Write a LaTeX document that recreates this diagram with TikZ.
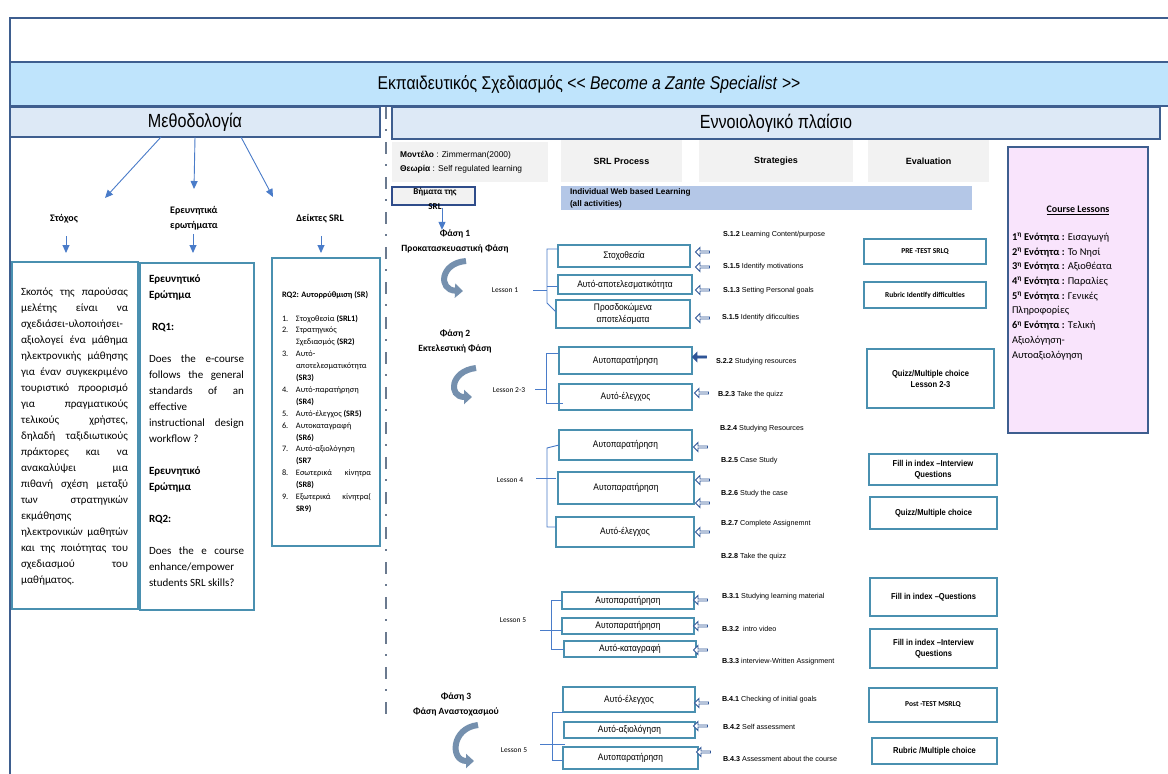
\documentclass[tikz,border=0pt]{standalone}
\usepackage{fontspec}
\setmainfont{Liberation Sans}
\newfontfamily\calib{Carlito}
\newfontfamily\narrowsans{Liberation Sans}[FakeStretch=0.88]
\newfontfamily\headsans{Liberation Sans}[FakeStretch=0.85]
\usetikzlibrary{arrows.meta,shapes.arrows}
\definecolor{frameblue}{HTML}{3E5E8F}
\definecolor{titlefill}{HTML}{BFE4FC}
\definecolor{headfill}{HTML}{DDE9F6}
\definecolor{boxteal}{HTML}{4A90B0}
\definecolor{connblue}{HTML}{4A7CC9}
\definecolor{greyfill}{HTML}{F2F2F2}
\definecolor{bandblue}{HTML}{B4C7E7}
\definecolor{pinkfill}{HTML}{F9E4FC}
\definecolor{icondark}{HTML}{2F5597}
\definecolor{curvecol}{HTML}{7590AE}
\definecolor{dashgrey}{HTML}{6B7A8F}
\definecolor{stepblue}{HTML}{2F4C8A}
\newcommand\jl[2]{\makebox[#1][s]{#2}}
\tikzset{
  every node/.style={inner sep=0pt, outer sep=0pt},
  conn/.style={draw=connblue, line width=0.9pt},
  arr/.style={conn, -{Triangle[length=8pt,width=7pt]}},
  band/.style={fill=headfill, draw=frameblue, line width=1.2pt},
  bandtext/.style={font=\headsans\fontsize{19}{22}\selectfont},
  srlbox/.style={draw=boxteal, line width=1.3pt, fill=white, align=center, font=\narrowsans\fontsize{9.5}{12}\selectfont},
  evalbox/.style={draw=boxteal, line width=1.3pt, fill=white, align=center, font=\narrowsans\bfseries\fontsize{8.6}{11}\selectfont},
  evalcal/.style={evalbox, font=\calib\bfseries\fontsize{7.5}{9}\selectfont},
  strat/.style={anchor=west, font=\fontsize{7.2}{8}\selectfont},
  icon/.style={single arrow, draw=icondark, fill=white, shape border rotate=180, minimum height=14pt, minimum width=9pt, single arrow head extend=1.5pt, line width=0.9pt},
  lesson/.style={font=\calib\fontsize{7.5}{9}\selectfont},
  phase/.style={font=\calib\bfseries\fontsize{9.5}{15}\selectfont, align=center},
  head/.style={fill=greyfill},
  headtext/.style={font=\bfseries\fontsize{9}{11}\selectfont},
  curve/.style={draw=curvecol, line width=6pt, -{Triangle[length=8pt,width=14pt]}},
  tealbox/.style={draw=boxteal, line width=1.8pt, fill=white},
  lab/.style={font=\calib\bfseries\fontsize{10}{15}\selectfont, align=left},
}
\begin{document}
\begin{tikzpicture}[x=1pt,y=-1pt]
\useasboundingbox (0,0) rectangle (1168,774);
\clip (0,0) rectangle (1168,774);
\fill[white] (0,0) rectangle (1168,774);
% outer frame
\draw[frameblue, line width=1.5pt] (10,18) rectangle (1190,800);
% title band
\draw[fill=titlefill, draw=frameblue, line width=1.3pt] (10,62) rectangle (1190,106);
\node[font=\headsans\fontsize{18.5}{22}\selectfont] (title) at (589,84) {Εκπαιδευτικός Σχεδιασμός << \textit{Become a Zante Specialist} >>};
% section bands
\node[band, bandtext, minimum width=370pt, minimum height=30pt] (meth) at (195,122) {Μεθοδολογία};
\node[band, bandtext, minimum width=768pt, minimum height=32pt] (concept) at (776,123) {Εννοιολογικό πλαίσιο};
% dash-dot separator
\draw[dashgrey, line width=2pt, dash pattern=on 12pt off 10pt on 2pt off 11pt] (386,107) -- (386,717);

% ---------- left part ----------
\node[lab] (stoch) at (64,219) {Στόχος};
\node[lab] (erev) at (194,218) {Ερευνητικά\\ερωτήματα};
\node[lab] (deik) at (320,219) {Δείκτες SRL};
\coordinate (a1e) at (105,198);
\coordinate (a2e) at (194,189);
\coordinate (a3e) at (273,197);
\draw[arr] ([xshift=-34pt]meth.south) -- (a1e);
\draw[arr] (meth.south) -- (a2e);
\draw[arr] ([xshift=46pt]meth.south) -- (a3e);

\node[tealbox, minimum width=126pt, minimum height=347pt] (box1) at (75,435.5) {};
\node[tealbox, minimum width=114pt, minimum height=347pt] (box2) at (197,436.5) {};
\node[tealbox, minimum width=108pt, minimum height=288pt] (box3) at (326,402) {};
\draw[arr] ([yshift=-13pt]stoch.south -| 66,0) -- ([yshift=9pt]box1.north -| 66,0);
\draw[arr] ([yshift=-4pt]erev.south -| 193,0) -- ([yshift=10pt]box2.north -| 193,0);
\draw[arr] ([yshift=-13pt]deik.south -| 321,0) -- ([yshift=5pt]box3.north -| 321,0);

\node[anchor=north west, align=left, font=\calib\fontsize{11}{16}\selectfont] (box1txt) at (21,288) {%
\jl{107pt}{Σκοπός της παρούσας}\\
\jl{107pt}{μελέτης είναι να}\\
σχεδιάσει-υλοποιήσει-\\
\jl{107pt}{αξιολογεί ένα μάθημα}\\
\jl{107pt}{ηλεκτρονικής μάθησης}\\
\jl{107pt}{για έναν συγκεκριμένο}\\
\jl{107pt}{τουριστικό προορισμό}\\
\jl{107pt}{για πραγματικούς}\\
\jl{107pt}{τελικούς χρήστες,}\\
\jl{107pt}{δηλαδή ταξιδιωτικούς}\\
\jl{107pt}{πράκτορες και να}\\
\jl{107pt}{ανακαλύψει μια}\\
\jl{107pt}{πιθανή σχέση μεταξύ}\\
\jl{107pt}{των στρατηγικών}\\
εκμάθησης\\
\jl{107pt}{ηλεκτρονικών μαθητών}\\
\jl{107pt}{και της ποιότητας του}\\
\jl{107pt}{σχεδιασμού του}\\
μαθήματος.};

\node[anchor=north west, align=left, font=\calib\fontsize{11}{16}\selectfont] (box2txt) at (149,275) {%
\textbf{Ερευνητικό}\\
\textbf{Ερώτημα}\\[16pt]
\hspace*{3pt}\textbf{RQ1:}\\[16pt]
\jl{95pt}{Does the e-course}\\
\jl{95pt}{follows the general}\\
\jl{95pt}{standards of an}\\
effective\\
\jl{95pt}{instructional design}\\
workflow ?\\[16pt]
\textbf{Ερευνητικό}\\
\textbf{Ερώτημα}\\[16pt]
\textbf{RQ2:}\\[16pt]
\jl{95pt}{Does the e course}\\
enhance/empower\\
students SRL skills?};

\node[anchor=north west, align=left, font=\calib\fontsize{8.3}{11.9}\selectfont] (box3txt) at (282,291) {%
\textbf{RQ2: Αυτορρύθμιση (SR)}\\[12pt]
\makebox[14pt][l]{1.}Στοχοθεσία \textbf{(SRL1)}\\
\makebox[14pt][l]{2.}Στρατηγικός\\
\hspace*{14pt}Σχεδιασμός \textbf{(SR2)}\\
\makebox[14pt][l]{3.}Αυτό-\\
\hspace*{14pt}αποτελεσματικότητα\\
\hspace*{14pt}\textbf{(SR3)}\\
\makebox[14pt][l]{4.}Αυτό-παρατήρηση\\
\hspace*{14pt}\textbf{(SR4)}\\
\makebox[14pt][l]{5.}Αυτό-έλεγχος \textbf{(SR5)}\\
\makebox[14pt][l]{6.}Αυτοκαταγραφή\\
\hspace*{14pt}\textbf{(SR6)}\\
\makebox[14pt][l]{7.}Αυτό-αξιολόγηση\\
\hspace*{14pt}\textbf{(SR7}\\
\makebox[14pt][l]{8.}\jl{75pt}{Εσωτερικά κίνητρα}\\
\hspace*{14pt}\textbf{(SR8)}\\
\makebox[14pt][l]{9.}\jl{75pt}{Εξωτερικά κίνητρα(}\\
\hspace*{14pt}\textbf{SR9)}};

% ---------- right part: headers ----------
\node[head, minimum width=156pt, minimum height=40pt] (h0) at (470,162) {};
\node[anchor=west, align=left, font=\fontsize{8.4}{14}\selectfont] (h0txt) at (400,162) {\textbf{Μοντέλο} : Zimmerman(2000)\\\textbf{Θεωρία} : Self regulated learning};
\node[head, headtext, minimum width=121pt, minimum height=42pt] (h1) at (621.5,161) {SRL Process};
\node[head, headtext, minimum width=154pt, minimum height=42pt] (h2) at (776,161) {Strategies};
\node[head, headtext, minimum width=121pt, minimum height=42pt] (h3) at (928.5,161) {Evaluation};
\node[fill=bandblue, minimum width=411pt, minimum height=24pt] (iwbl) at (766.5,198) {};
\node[anchor=west, align=left, font=\bfseries\fontsize{8.2}{12}\selectfont] (iwbltxt) at (570,198) {Individual Web based Learning\\(all activities)};

% steps box
\node[fill=greyfill, draw=stepblue, line width=1.3pt, minimum width=83pt, minimum height=18pt] (bhm) at (433.5,196) {};
\node[font=\calib\bfseries\fontsize{9}{15}\selectfont, align=center] (bhmt) at (435,198.5) {Βήματα της\\SRL};

% phases
\node[phase] (ph1) at (455,241.5) {Φάση 1\\Προκατασκευαστική Φάση};
\node[phase] (ph2) at (455,341.5) {Φάση 2\\Εκτελεστική Φάση};
\node[phase] (ph3) at (456,704) {Φάση 3\\Φάση Αναστοχασμού};
\coordinate (bhmarr) at (442,208);
\draw[arr] (bhmarr) -- (bhmarr |- ph1.north);

% curved arrows
\draw[curve] (466,261) .. controls (440,263) and (438,290) .. (463,291);
\draw[curve] (476,368) .. controls (450,371) and (448,397) .. (472,397);
\draw[curve] (478,725) .. controls (451,728) and (450,761) .. (474,761);

% lessons
\node[lesson] (les1) at (505,290) {Lesson 1};
\node[lesson] (les2) at (509,390) {Lesson 2-3};
\node[lesson] (les3) at (510,480) {Lesson 4};
\node[lesson] (les4) at (513,620) {Lesson 5};
\node[lesson] (les5) at (514,750) {Lesson 5};

% SRL process boxes
\node[srlbox, minimum width=132pt, minimum height=22pt] (b11) at (624,256) {Στοχοθεσία};
\node[srlbox, minimum width=134pt, minimum height=19pt] (b12) at (625,284.5) {Αυτό-αποτελεσματικότητα};
\node[srlbox, minimum width=134pt, minimum height=28pt] (b13) at (623,314) {Προσδοκώμενα\\αποτελέσματα};
\node[srlbox, minimum width=133pt, minimum height=27pt] (b21) at (625.5,360.5) {Αυτοπαρατήρηση};
\node[srlbox, minimum width=133pt, minimum height=26pt] (b22) at (625.5,397) {Αυτό-έλεγχος};
\node[srlbox, minimum width=133pt, minimum height=30pt] (b31) at (625.5,445) {Αυτοπαρατήρηση};
\node[srlbox, minimum width=136pt, minimum height=32pt] (b32) at (626,488) {Αυτοπαρατήρηση};
\node[srlbox, minimum width=138pt, minimum height=30pt] (b33) at (625,532) {Αυτό-έλεγχος};
\node[srlbox, minimum width=132pt, minimum height=17pt] (b41) at (628,600.5) {Αυτοπαρατήρηση};
\node[srlbox, minimum width=132pt, minimum height=16pt] (b42) at (628,626) {Αυτοπαρατήρηση};
\node[srlbox, minimum width=132pt, minimum height=16pt] (b43) at (630,649) {Αυτό-καταγραφή};
\node[srlbox, minimum width=132pt, minimum height=25pt] (b51) at (629,699.5) {Αυτό-έλεγχος};
\node[srlbox, minimum width=131pt, minimum height=16pt] (b52) at (629.5,730) {Αυτό-αξιολόγηση};
\node[srlbox, minimum width=135pt, minimum height=22pt] (b53) at (630.5,758) {Αυτοπαρατήρηση};

% brackets
\coordinate (k1) at (533,290);
\coordinate (k2) at (535,389);
\coordinate (k3) at (536,478);
\coordinate (k4) at (540,630);
\coordinate (k5) at (540,744);
\draw[conn] (k1) -- (547,290);
\draw[conn] (b11.west |- 0,249) -- (547,249) -- (547,303) -- (b13.west |- 0,312);
\draw[conn] (547,286) -- (b12.west |- 0,286);
\draw[conn] (k2) -- (546,389);
\draw[conn] (b21.west |- 0,353) -- (546,353) -- (546,403) -- (563,403);
\draw[conn] (k3) -- (556,478);
\draw[conn] (b31.west |- 0,445) -- (547,448) -- (547,527) -- (b33.west |- 0,527);
\draw[conn] (k4) -- (b42.west |- k4);
\draw[conn] (b41.west |- 0,600) -- (551,600) -- (551,649) -- (b43.west |- 0,649);
\draw[conn] (k5) -- (565,744);
\draw[conn] (b51.south west) -- (552,712) -- (552,760) -- (b53.west |- 0,760);

% icons
\node[icon] (i1) at (703,252) {};
\node[icon] (i2) at (703,267) {};
\node[icon] (i3) at (703,290) {};
\node[icon] (i4) at (703,318) {};
\node[icon, fill=icondark] (i5) at (700,357) {};
\node[icon] (i6) at (702,393) {};
\node[icon] (i7) at (701,447) {};
\node[icon] (i8) at (703,480) {};
\node[icon] (i9) at (703,503) {};
\node[icon] (i10) at (703,532) {};
\node[icon] (i11) at (701,600) {};
\node[icon] (i12) at (701,626) {};
\node[icon] (i13) at (701,650) {};
\node[icon] (i14) at (702,703) {};
\node[icon] (i15) at (701,726) {};
\node[icon] (i16) at (704,752) {};

% strategies
\node[strat] (s1) at (723,235) {\textbf{S.1.2} Learning Content/purpose};
\node[strat] (s2) at (723,267) {\textbf{S.1.5} Identify motivations};
\node[strat] (s3) at (723,291) {\textbf{S.1.3} Setting Personal goals};
\node[strat] (s4) at (722,318) {\textbf{S.1.5} Identify dificculties};
\node[strat] (s5) at (716,362) {\textbf{S.2.2} Studying resources};
\node[strat] (s6) at (718,395) {\textbf{B.2.3} Take the quizz};
\node[strat] (s7) at (720,429) {\textbf{B.2.4} Studying Resources};
\node[strat] (s8) at (721,461) {\textbf{B.2.5} Case Study};
\node[strat] (s9) at (721,494) {\textbf{B.2.6} Study the case};
\node[strat] (s10) at (721,524) {\textbf{B.2.7} Complete Assignemnt};
\node[strat] (s11) at (721,557) {\textbf{B.2.8} Take the quizz};
\node[strat] (s12) at (722,597) {\textbf{B.3.1} Studying learning material};
\node[strat] (s13) at (722,629) {\textbf{B.3.2} \ intro video};
\node[strat] (s14) at (722,662) {\textbf{B.3.3} interview-Written Assignment};
\node[strat] (s15) at (722,700) {\textbf{B.4.1} Checking of initial goals};
\node[strat] (s16) at (723,727) {\textbf{B.4.2} Self assessment};
\node[strat] (s17) at (723,759) {\textbf{B.4.3} Assessment about the course};

% evaluation boxes
\node[evalcal, minimum width=122pt, minimum height=25pt] (e1) at (925,251.5) {PRE -TEST SRLQ};
\node[evalcal, minimum width=122pt, minimum height=26pt] (e2) at (925,295) {Rubric Identify difficulties};
\node[evalbox, minimum width=127pt, minimum height=59pt] (e3) at (930.5,378.5) {Quizz/Multiple choice\\Lesson 2-3};
\node[evalbox, minimum width=128pt, minimum height=31pt] (e4) at (933,469.5) {Fill in index –Interview\\Questions};
\node[evalbox, minimum width=127pt, minimum height=32pt] (e5) at (933.5,513) {Quizz/Multiple choice};
\node[evalbox, minimum width=127pt, minimum height=38pt] (e6) at (933.5,597) {Fill in index –Questions};
\node[evalbox, minimum width=127pt, minimum height=39pt] (e7) at (933.5,648.5) {Fill in index –Interview\\Questions};
\node[evalcal, minimum width=128pt, minimum height=34pt] (e8) at (933,705) {Post -TEST MSRLQ};
\node[evalbox, minimum width=125pt, minimum height=26pt] (e9) at (934.5,751) {Rubric /Multiple choice};

% course lessons
\node[fill=pinkfill, draw=frameblue, line width=1.3pt, minimum width=140pt, minimum height=286pt] (course) at (1078,290) {};
\node[font=\calib\bfseries\fontsize{10}{12}\selectfont] (coursetitle) at (1078,210) {\underline{Course Lessons}};
\node[anchor=north west, align=left, font=\calib\fontsize{10.4}{14.7}\selectfont] (coursetxt) at (1012,233) {%
\textbf{1\textsuperscript{η} Ενότητα :} Εισαγωγή\\
\textbf{2\textsuperscript{η} Ενότητα :} Το Νησί\\
\textbf{3\textsuperscript{η} Ενότητα :} Αξιοθέατα\\
\textbf{4\textsuperscript{η} Ενότητα :} Παραλίες\\
\textbf{5\textsuperscript{η} Ενότητα :} Γενικές\\
Πληροφορίες\\
\textbf{6\textsuperscript{η} Ενότητα :} Τελική\\
Αξιολόγηση-\\
Αυτοαξιολόγηση};
\end{tikzpicture}
\end{document}
